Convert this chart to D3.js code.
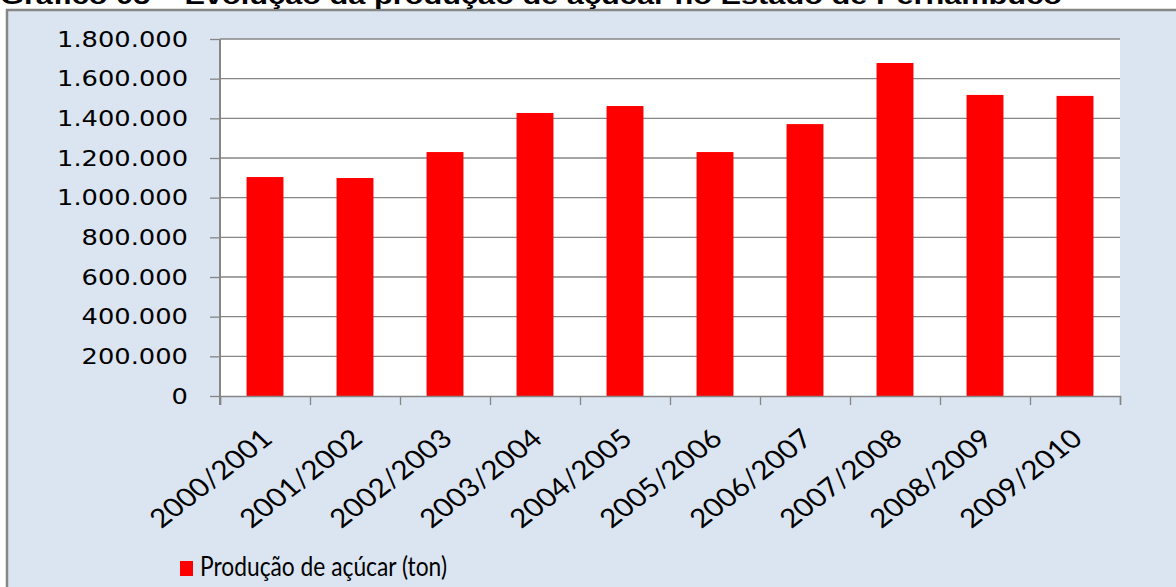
<!DOCTYPE html>
<html lang="pt">
<head>
    <meta charset="UTF-8">
    <title>Produção de açúcar - Pernambuco</title>
    <style>
        body { margin: 0; background: #fff; }
        svg { display: block; }
    </style>
</head>
<body>
<svg></svg>
<script src="https://cdn.jsdelivr.net/npm/d3@7"></script>
<script>
    // dados
    var safras = ["2000/2001", "2001/2002", "2002/2003", "2003/2004", "2004/2005",
                  "2005/2006", "2006/2007", "2007/2008", "2008/2009", "2009/2010"];
    var producao = [1104000, 1099000, 1230000, 1427000, 1462000,
                    1230000, 1371000, 1679000, 1518000, 1513000];
    var yTicks = [0, 200000, 400000, 600000, 800000, 1000000, 1200000, 1400000, 1600000, 1800000];
    var titulo = "Gráfico 05 – Evolução da produção de açúcar no Estado de Pernambuco";
    var legenda = "Produção de açúcar (ton)";

    var width = 1176;
    var height = 587;
    var margin = {top: 39, right: 56, bottom: 191, left: 220};
    var plotW = width - margin.left - margin.right;
    var plotH = height - margin.top - margin.bottom;
    var cinza = "#868686";

    var ptBR = d3.formatLocale({decimal: ",", thousands: ".", grouping: [3], currency: ["R$", ""]});
    var fmt = ptBR.format(",");

    var x = d3.scaleBand().domain(safras).range([0, plotW]).padding(0);
    var xEdges = d3.scaleLinear().domain([0, safras.length]).range([0, plotW]);
    var y = d3.scaleLinear().domain([0, 1800000]).range([plotH, 0]);
    var barW = x.bandwidth() * 0.41;

    var svg = d3.select("svg")
        .attr("width", width)
        .attr("height", height);

    // fundo da área do gráfico
    svg.append("rect")
        .attr("x", 7)
        .attr("y", 10)
        .attr("width", width + 20)
        .attr("height", height + 20)
        .style("fill", "#DBE5F1")
        .style("stroke", cinza)
        .style("stroke-width", 2.5);

    // título (cortado no topo da imagem)
    svg.append("text")
        .attr("x", 0)
        .attr("y", 4)
        .attr("textLength", 1062)
        .attr("lengthAdjust", "spacingAndGlyphs")
        .style("font-family", "'Liberation Sans', Arial, sans-serif")
        .style("font-weight", "bold")
        .style("font-size", "24px")
        .style("fill", "#000")
        .text(titulo);

    var g = svg.append("g")
        .attr("transform", "translate(" + margin.left + "," + margin.top + ")");

    g.append("rect")
        .attr("width", plotW)
        .attr("height", plotH)
        .style("fill", "#fff");

    // linhas de grade
    g.selectAll(".grid")
        .data(yTicks.slice(1))
        .enter().append("line")
        .attr("x1", 0)
        .attr("x2", plotW)
        .attr("y1", function (d) { return y(d); })
        .attr("y2", function (d) { return y(d); })
        .style("stroke", cinza)
        .style("stroke-width", 1.3);

    // barras
    g.selectAll(".bar")
        .data(producao)
        .enter().append("rect")
        .attr("x", function (d, i) { return x(safras[i]) + (x.bandwidth() - barW) / 2; })
        .attr("y", function (d) { return y(d); })
        .attr("width", barW)
        .attr("height", function (d) { return plotH - y(d); })
        .style("fill", "#FF0000");

    // eixo Y
    var yAxis = d3.axisLeft(y).tickValues(yTicks).tickSize(10).tickFormat(fmt);
    var gy = g.append("g").call(yAxis);
    gy.select(".domain").remove();
    gy.selectAll(".tick line").style("stroke", cinza).style("stroke-width", 1.3);
    gy.selectAll(".tick text")
        .attr("x", 0)
        .attr("transform", "translate(-32,0) scale(1.17,1)")
        .style("font-family", "'DejaVu Sans', Verdana, sans-serif")
        .style("font-size", "22px")
        .style("fill", "#000");
    g.append("line")
        .attr("x1", 0).attr("x2", 0)
        .attr("y1", 0).attr("y2", plotH + 9)
        .style("stroke", cinza)
        .style("stroke-width", 2);

    // eixo X
    var xAxis = d3.axisBottom(xEdges).tickValues(d3.range(safras.length + 1)).tickSize(9).tickFormat("");
    var gx = g.append("g")
        .attr("transform", "translate(0," + plotH + ")")
        .call(xAxis);
    gx.select(".domain").style("stroke", cinza).style("stroke-width", 1.5);
    gx.selectAll(".tick line").style("stroke", cinza).style("stroke-width", 1.3);

    g.selectAll(".xlabel")
        .data(safras)
        .enter().append("text")
        .attr("transform", function (d) {
            return "translate(" + (x(d) + x.bandwidth() / 2 + 9) + "," + (plotH + 45) + ") scale(1.15,1) rotate(-42)";
        })
        .attr("textLength", 132)
        .attr("lengthAdjust", "spacingAndGlyphs")
        .style("text-anchor", "end")
        .style("font-family", "Lato, 'Open Sans', sans-serif")
        .style("font-size", "26px")
        .style("fill", "#000")
        .text(function (d) { return d; });

    // legenda
    var leg = svg.append("g").attr("transform", "translate(180,561)");
    leg.append("rect")
        .attr("width", 13)
        .attr("height", 15)
        .style("fill", "#FF0000");
    leg.append("text")
        .attr("x", 20)
        .attr("y", 15)
        .attr("textLength", 247)
        .attr("lengthAdjust", "spacingAndGlyphs")
        .style("font-family", "Lato, 'Open Sans', sans-serif")
        .style("font-size", "26px")
        .style("fill", "#000")
        .text(legenda);
</script>
</body>
</html>
